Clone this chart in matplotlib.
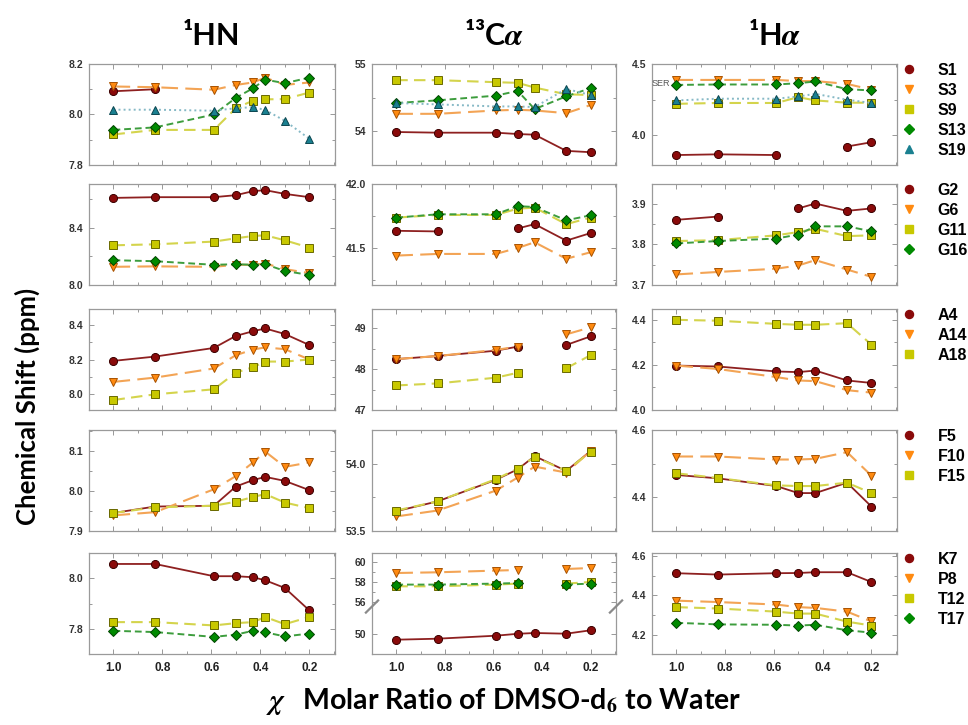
import numpy as np
import matplotlib
matplotlib.use("Agg")
import matplotlib.pyplot as plt
from matplotlib.ticker import AutoMinorLocator, FixedLocator
from matplotlib.lines import Line2D

nan = np.nan

# DMSO-d6 molar ratios at which spectra were recorded
chi_hn = [1.0, 0.83, 0.59, 0.5, 0.43, 0.38, 0.3, 0.2]
chi_c = [1.0, 0.83, 0.59, 0.5, 0.43, 0.3, 0.2]

# ---- Serines ----
hn_ser = {"S1": [8.092, 8.100, nan, nan, nan, nan, nan, nan],
          "S3": [8.111, 8.108, 8.098, 8.117, 8.127, 8.146, 8.117, 8.127],
          "S9": [7.921, 7.939, 7.939, 8.025, 8.055, 8.060, 8.061, 8.087],
          "S13": [7.939, 7.949, 8.000, 8.066, 8.104, 8.138, 8.124, 8.146],
          "S19": [8.019, 8.019, 8.015, 8.025, 8.029, 8.018, 7.975, 7.904]}
ca_ser = {"S1": [53.99, 53.98, 53.98, 53.96, 53.95, 53.71, 53.69],
          "S3": [54.26, 54.26, 54.31, 54.32, 54.31, 54.27, 54.39],
          "S9": [54.76, 54.76, 54.73, 54.72, 54.65, 54.55, 54.54],
          "S13": [54.42, 54.46, 54.53, 54.60, 54.33, 54.52, 54.64],
          "S19": [54.42, 54.40, 54.37, 54.37, 54.36, 54.63, 54.54]}
ha_ser = {"S1": [3.860, 3.865, 3.860, nan, nan, 3.920, 3.950],
          "S3": [4.388, 4.388, 4.388, 4.380, 4.380, 4.360, 4.320],
          "S9": [4.220, 4.226, 4.226, 4.267, 4.244, 4.228, 4.228],
          "S13": [4.353, 4.356, 4.356, 4.365, 4.377, 4.323, 4.314],
          "S19": [4.244, 4.256, 4.256, 4.272, 4.290, 4.249, 4.226]}

# ---- Glycines ----
hn_gly = {"G2": [8.608, 8.613, 8.613, 8.627, 8.655, 8.662, 8.636, 8.613],
          "G6": [8.127, 8.130, 8.127, 8.141, 8.141, 8.150, 8.111, 8.083],
          "G11": [8.277, 8.284, 8.303, 8.326, 8.342, 8.347, 8.312, 8.261],
          "G16": [8.173, 8.166, 8.141, 8.145, 8.141, 8.145, 8.098, 8.070]}
ca_gly = {"G2": [41.634, 41.629, nan, 41.652, 41.686, 41.557, 41.616],
          "G6": [41.440, 41.453, 41.453, 41.500, 41.544, 41.415, 41.466],
          "G11": [41.737, 41.758, 41.758, 41.807, 41.815, 41.686, 41.737],
          "G16": [41.737, 41.763, 41.763, 41.827, 41.820, 41.716, 41.755]}
ha_gly = {"G2": [3.860, 3.868, nan, 3.888, 3.900, 3.882, 3.888],
          "G6": [3.726, 3.732, 3.740, 3.748, 3.761, 3.738, 3.720],
          "G11": [3.808, 3.810, 3.822, 3.830, 3.838, 3.820, 3.822],
          "G16": [3.802, 3.808, 3.814, 3.824, 3.844, 3.844, 3.832]}

# ---- Alanines ----
hn_ala = {"A4": [8.192, 8.217, 8.267, 8.337, 8.364, 8.380, 8.348, 8.284],
          "A14": [8.070, 8.095, 8.148, 8.225, 8.258, 8.270, 8.260, 8.200],
          "A18": [7.965, 7.998, 8.027, 8.124, 8.155, 8.188, 8.188, 8.200]}
ca_ala = {"A4": [48.245, 48.32, 48.45, 48.55, nan, 48.59, 48.80],
          "A14": [48.245, 48.32, 48.47, 48.55, nan, 48.85, 49.02],
          "A18": [47.60, 47.65, 47.79, 47.91, nan, 48.02, 48.34]}
ha_ala = {"A4": [4.197, 4.193, 4.171, 4.168, 4.175, 4.131, 4.120],
          "A14": [4.197, 4.182, 4.146, 4.131, 4.128, 4.088, 4.077],
          "A18": [4.400, 4.396, 4.382, 4.378, 4.378, 4.385, 4.290]}

# ---- Phenylalanines ----
hn_phe = {"F5": [7.945, 7.961, 7.963, 8.011, 8.027, 8.035, 8.025, 8.002],
          "F10": [7.939, 7.947, 8.004, 8.037, 8.071, 8.098, 8.060, 8.071],
          "F15": [7.945, 7.959, 7.963, 7.973, 7.985, 7.992, 7.971, 7.957]}
ca_phe = {"F5": [53.647, 53.720, 53.880, 53.958, 54.056, 53.946, 54.093],
          "F10": [53.608, 53.652, 53.800, 53.897, 53.978, 53.934, 54.093],
          "F15": [53.652, 53.720, 53.885, 53.963, 54.050, 53.946, 54.088]}
ha_phe = {"F5": [4.466, 4.456, 4.433, 4.412, 4.412, 4.443, 4.372],
          "F10": [4.521, 4.521, 4.512, 4.512, 4.514, 4.534, 4.464],
          "F15": [4.471, 4.457, 4.435, 4.433, 4.433, 4.443, 4.412]}

# ---- Lys / Pro / Thr ----
hn_kpt = {"K7": [8.055, 8.055, 8.007, 8.007, 8.003, 7.991, 7.961, 7.873],
          "P8": [nan] * 8,
          "T12": [7.827, 7.827, 7.814, 7.823, 7.827, 7.847, 7.819, 7.847],
          "T17": [7.793, 7.788, 7.769, 7.778, 7.793, 7.787, 7.771, 7.782]}
ca_kpt = {"K7": [49.43, 49.53, 49.83, 50.02, 50.10, 50.03, 50.37],
          "P8": [58.93, 59.00, 59.17, 59.23, nan, 59.33, 59.43],
          "T12": [57.60, 57.60, 57.77, 57.87, nan, 57.87, 58.03],
          "T17": [57.77, 57.77, 57.87, 57.93, nan, 57.77, 57.87]}
ha_kpt = {"K7": [4.513, 4.506, 4.513, 4.514, 4.518, 4.518, 4.468],
          "P8": [4.373, 4.366, 4.353, 4.340, 4.336, 4.317, 4.267],
          "T12": [4.340, 4.333, 4.317, 4.307, 4.307, 4.266, 4.246],
          "T17": [4.260, 4.252, 4.250, 4.246, 4.250, 4.222, 4.210]}

col_titles = ["\u00b9HN", "\u00b9\u00b3C$\\alpha$", "\u00b9H$\\alpha$"]
x_ticks = [1.0, 0.8, 0.6, 0.4, 0.2]

rows = [
    (hn_ser, ca_ser, ha_ser),
    (hn_gly, ca_gly, ha_gly),
    (hn_ala, ca_ala, ha_ala),
    (hn_phe, ca_phe, ha_phe),
    (hn_kpt, ca_kpt, ha_kpt),
]
ylims = [
    [(7.8, 8.2), (53.5, 55.0), (3.79, 4.5)],
    [(8.0, 8.705), (41.21, 42.0), (3.7, 3.948)],
    [(7.907, 8.493), (47.0, 49.47), (4.0, 4.448)],
    [(7.9, 8.152), (53.5, 54.25), (4.299, 4.6)],
    [(7.702, 8.098), (48.0, 60.93), (4.101, 4.616)],
]
yticks = [
    [[7.8, 8.0, 8.2], [54, 55], [4.0, 4.5]],
    [[8.0, 8.4], [41.5, 42.0], [3.7, 3.8, 3.9]],
    [[8.0, 8.2, 8.4], [47, 48, 49], [4.0, 4.2, 4.4]],
    [[7.9, 8.0, 8.1], [53.5, 54.0], [4.4, 4.6]],
    [[7.8, 8.0], [50, 56, 58, 60], [4.2, 4.4, 4.6]],
]
yfmt = [
    ["{:.1f}", "{:.0f}", "{:.1f}"],
    ["{:.1f}", "{:.1f}", "{:.1f}"],
    ["{:.1f}", "{:.0f}", "{:.1f}"],
    ["{:.1f}", "{:.1f}", "{:.1f}"],
    ["{:.1f}", "{:.0f}", "{:.1f}"],
]

# marker / line styles by series position within a row
styles = [
    dict(marker="o", ms=5.8, mfc="#8a0a0a", mec="#3a0000", color="#8e2020", ls="-", lw=1.3),
    dict(marker="v", ms=6.0, mfc="#ff8a10", mec="#a85200", color="#f3a455", ls=(0, (8, 3.5)), lw=1.5),
    dict(marker="s", ms=5.3, mfc="#c8c800", mec="#6a6a00", color="#d4d44c", ls=(0, (5.5, 3)), lw=1.5),
    dict(marker="D", ms=5.0, mfc="#008a00", mec="#004400", color="#3d9d3d", ls=(0, (3.5, 2)), lw=1.4),
    dict(marker="^", ms=5.8, mfc="#1a8090", mec="#0b4650", color="#86b9c6", ls=(0, (1, 1.6)), lw=1.4),
]

plt.rcParams["font.family"] = ["Liberation Sans", "DejaVu Sans"]
plt.rcParams["font.weight"] = "bold"
plt.rcParams["mathtext.fontset"] = "stix"

W, H = 968, 725
fig = plt.figure(figsize=(W / 100, H / 100), dpi=100)

col_left = [89, 372, 652]
col_w = [246, 244, 245]
row_top = [64, 184, 309, 430, 553]
row_h = 101


def brk_fwd(y):
    return np.interp(y, [0, 51, 55, 100], [2.83, 53.83, 55, 100])


def brk_inv(d):
    return np.interp(d, [2.83, 53.83, 55, 100], [0, 51, 55, 100])


for r, panels in enumerate(rows):
    for c, data in enumerate(panels):
        ax = fig.add_axes([col_left[c] / W, 1 - (row_top[r] + row_h) / H,
                           col_w[c] / W, row_h / H])
        xs = chi_hn if c == 0 else chi_c
        broken = (r == 4 and c == 1)
        if broken:
            ax.set_yscale("function", functions=(brk_fwd, brk_inv))
        for i, (name, vals) in enumerate(data.items()):
            st = styles[i]
            ax.plot(xs, vals, marker=st["marker"], ms=st["ms"], mfc=st["mfc"],
                    mec=st["mec"], mew=0.7, color=st["color"], ls=st["ls"],
                    lw=st["lw"], zorder=3 + i * 0.1)
        ax.set_xlim(1.1, 0.095)
        ax.set_ylim(*ylims[r][c])
        ax.xaxis.set_major_locator(FixedLocator(x_ticks))
        ax.xaxis.set_minor_locator(AutoMinorLocator(2))
        ax.yaxis.set_major_locator(FixedLocator(yticks[r][c]))
        if broken:
            ax.yaxis.set_minor_locator(FixedLocator([57, 59]))
        else:
            ax.yaxis.set_minor_locator(AutoMinorLocator(2))
        ax.set_yticklabels([yfmt[r][c].format(v) for v in yticks[r][c]])
        if r == 4:
            ax.set_xticklabels([f"{v:.1f}" for v in x_ticks])
        else:
            ax.set_xticklabels([])
        ax.tick_params(which="both", direction="in", top=True, right=True,
                       color="#888888", width=0.6)
        ax.tick_params(which="major", length=3.5)
        ax.tick_params(which="minor", length=2)
        ax.tick_params(axis="y", labelsize=7.5, labelcolor="#333333", pad=4)
        ax.tick_params(axis="x", labelsize=8.5, labelcolor="#222222", pad=6)
        for sp in ax.spines.values():
            sp.set_color("#9a9a9a")
            sp.set_linewidth(0.9)
        if broken:
            for xa in (0.0, 1.0):
                ax.plot([xa - 0.025, xa + 0.025], [0.41, 0.53], color="#8a8a8a",
                        lw=1.6, transform=ax.transAxes, clip_on=False, zorder=6)
        if r == 0 and c == 2:
            ax.text(0.0, 4.36, "SER", fontsize=6.5, color="#555555",
                    fontweight="normal", ha="left", va="center",
                    transform=ax.get_yaxis_transform())
        if c == 2:
            handles = [Line2D([], [], ls="none", marker=styles[i]["marker"],
                              ms=styles[i]["ms"], mfc=styles[i]["mfc"],
                              mec=styles[i]["mfc"])
                       for i in range(len(data))]
            ax.legend(handles, list(data.keys()), loc="upper left",
                      bbox_to_anchor=(1.01, 1.03), frameon=False,
                      prop=dict(size=11.5, weight="bold"), handlelength=1.0,
                      handletextpad=1.3, labelspacing=0.32, borderpad=0.1,
                      borderaxespad=0)
        if r == 0:
            ax.set_title(col_titles[c], fontsize=22, fontweight="bold",
                         family=["Lato", "DejaVu Sans"], pad=14)

fig.text(0.028, 0.44, "Chemical Shift (ppm)", rotation=90, ha="center",
         va="center", fontsize=18.5, fontweight="bold",
         family=["Lato", "DejaVu Sans"])
fig.text(0.52, 0.033, "$\\chi$   Molar Ratio of DMSO-d$_6$ to Water",
         ha="center", va="center", fontsize=20.5, fontweight="bold",
         family=["Lato", "DejaVu Sans"])

fig.savefig("out.png", dpi=100)
